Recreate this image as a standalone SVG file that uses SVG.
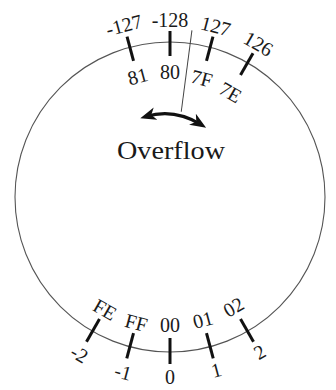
<svg xmlns="http://www.w3.org/2000/svg" width="336" height="390" viewBox="0 0 336 390">
  <style>
    .lbl { font-family: "Liberation Serif", "Times New Roman", serif; font-size: 20px; fill: #1a1a1a; text-anchor: middle; }
    .tick { stroke: #111; stroke-width: 3; }
    .ring { fill: none; stroke: #555; stroke-width: 1.1; }
  </style>
  <defs>
    <marker id="head" viewBox="0 0 16 13" markerWidth="16" markerHeight="13" refX="10" refY="6.5" orient="auto-start-reverse" markerUnits="userSpaceOnUse">
      <path d="M0,0 L16,6.5 L0,13 L4.5,6.5 z" fill="#111"/>
    </marker>
  </defs>
  <rect width="336" height="390" fill="#fff"/>
  <g id="dial">
    <circle class="ring" cx="170" cy="197" r="155"/>
  </g>
  <g id="ticks">
    <line class="tick" x1="170" y1="56" x2="170" y2="31" transform="rotate(-15 170 197)"/>
    <line class="tick" x1="170" y1="56" x2="170" y2="31"/>
    <line class="tick" x1="170" y1="56" x2="170" y2="31" transform="rotate(15 170 197)"/>
    <line class="tick" x1="170" y1="56" x2="170" y2="31" transform="rotate(30 170 197)"/>
    <line class="tick" x1="170" y1="338" x2="170" y2="364" transform="rotate(30 170 197)"/>
    <line class="tick" x1="170" y1="338" x2="170" y2="364" transform="rotate(15 170 197)"/>
    <line class="tick" x1="170" y1="338" x2="170" y2="364"/>
    <line class="tick" x1="170" y1="338" x2="170" y2="364" transform="rotate(-15 170 197)"/>
    <line class="tick" x1="170" y1="338" x2="170" y2="364" transform="rotate(-30 170 197)"/>
  </g>
  <g id="top-labels">
    <text class="lbl" x="170" y="26" transform="rotate(-15 170 197)">-127</text>
    <text class="lbl" x="170" y="27">-128</text>
    <text class="lbl" x="170" y="27" transform="rotate(15 170 197)">127</text>
    <text class="lbl" x="170" y="27" transform="rotate(30 170 197)">126</text>
    <text class="lbl" x="170" y="79" transform="rotate(-15 170 197)">81</text>
    <text class="lbl" x="170" y="79">80</text>
    <text class="lbl" x="170" y="81" transform="rotate(15 170 197)">7F</text>
    <text class="lbl" x="170" y="83" transform="rotate(30 170 197)">7E</text>
  </g>
  <g id="bottom-labels">
    <text class="lbl" x="170" y="334" transform="rotate(30 170 197)">FE</text>
    <text class="lbl" x="170" y="334" transform="rotate(15 170 197)">FF</text>
    <text class="lbl" x="170" y="332">00</text>
    <text class="lbl" x="170" y="331" transform="rotate(-15 170 197)">01</text>
    <text class="lbl" x="170" y="331" transform="rotate(-30 170 197)">02</text>
    <text class="lbl" x="170" y="385" transform="rotate(30 170 197)">-2</text>
    <text class="lbl" x="170" y="385" transform="rotate(15 170 197)">-1</text>
    <text class="lbl" x="170" y="384">0</text>
    <text class="lbl" x="170" y="383" transform="rotate(-15 170 197)">1</text>
    <text class="lbl" x="170" y="383" transform="rotate(-30 170 197)">2</text>
  </g>
  <g id="overflow">
    <line x1="170" y1="29" x2="170" y2="111" stroke="#444" stroke-width="1" transform="rotate(7.5 170 197)"/>
    <path d="M146,116.5 Q174,108 201,124.5" fill="none" stroke="#111" stroke-width="3.2" marker-start="url(#head)" marker-end="url(#head)"/>
    <text x="171" y="159" font-family="Liberation Serif, Times New Roman, serif" font-size="26" fill="#1a1a1a" text-anchor="middle" textLength="108" lengthAdjust="spacingAndGlyphs">Overflow</text>
  </g>
</svg>
